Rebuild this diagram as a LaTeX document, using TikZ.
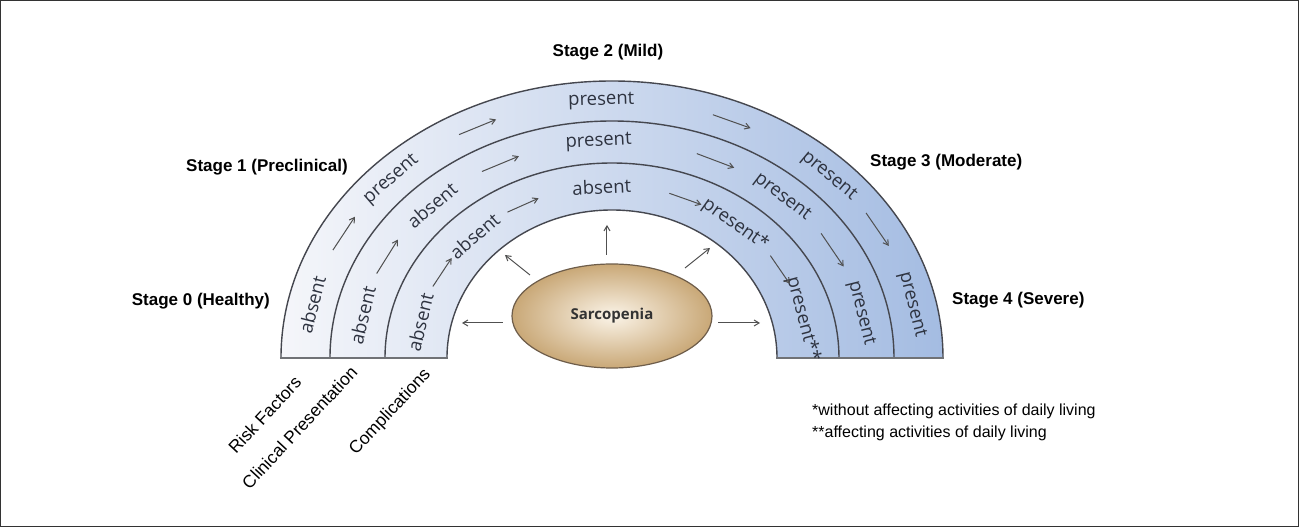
\documentclass[tikz,border=0pt]{standalone}
\usepackage{fontspec}
\setmainfont{Liberation Sans}
\newfontfamily\bandfont{Open Sans}
\usetikzlibrary{shapes.geometric,arrows.meta,calc}
\definecolor{ringL}{HTML}{F5F6FA}
\definecolor{ringM}{HTML}{DAE3F2}
\definecolor{ringR}{HTML}{A4BCE2}
\definecolor{ringline}{HTML}{45474F}
\definecolor{baseline}{HTML}{707276}
\definecolor{bandtxt}{HTML}{2E3340}
\definecolor{sarcIn}{HTML}{FBF4E8}
\definecolor{sarcOut}{HTML}{C9A877}
\definecolor{sarcBorder}{HTML}{6E5D4A}
\definecolor{arrowgray}{HTML}{505050}
\begin{document}
\begin{tikzpicture}[x=1pt,y=1pt,
 stagelabel/.style={font=\fontsize{17}{20}\selectfont\bfseries, inner sep=0pt},
 axislabel/.style={font=\fontsize{17.5}{20}\selectfont, inner sep=0pt, rotate=47, anchor=east},
 bandtext/.style={font=\bandfont\fontsize{18.5}{21}\selectfont, text=bandtxt, inner sep=0pt},
 bandarrow/.style={draw=arrowgray, line width=1pt, -{Straight Barb[length=5pt,width=6pt]}},
 ringarc/.style={draw=ringline, line width=1.4pt},
 sarcarrow/.style={draw=arrowgray, line width=1pt, -{Straight Barb[length=5pt,width=6pt]}},
]
\useasboundingbox (-612,-169) rectangle (687,358);
\draw[line width=1pt, black!80] (-611.5,-168.5) rectangle (686.5,357.5);
% ring
\shade[left color=ringL, middle color=ringM, right color=ringR] (-331,0) arc[start angle=180,end angle=0,x radius=331,y radius=277] -- cycle;
\fill[white] (-165,0) arc[start angle=180,end angle=0,x radius=165,y radius=148] -- cycle;
\foreach \ra/\rb in {331/277, 282/237, 227/195, 165/148}
  \draw[ringarc] (-\ra,0) arc[start angle=180,end angle=0,x radius=\ra,y radius=\rb];
\draw[draw=baseline, line width=2pt] (-332,0) -- (-164,0);
\draw[draw=baseline, line width=2pt] (164,0) -- (332,0);
% band labels
\foreach \t/\txt [count=\i] in {168/absent,136/present,92/present,45/present,12/present}
  \node[bandtext, rotate={atan2(-257*cos(\t),306.5*sin(\t))}] (o\i) at ({306.5*cos(\t)},{257*sin(\t)}) {\txt};
\foreach \t/\txt [count=\i] in {168.5/absent,135/absent,93/present,48/present,12/present}
  \node[bandtext, rotate={atan2(-216*cos(\t),254.5*sin(\t))}] (m\i) at ({254.5*cos(\t)},{216*sin(\t)}) {\txt};
\foreach \t/\txt [count=\i] in {168/absent,134.5/absent,93/absent,51/present*,13/present**}
  \node[bandtext, rotate={atan2(-171.5*cos(\t),196*sin(\t))}] (n\i) at ({196*cos(\t)},{171.5*sin(\t)}) {\txt};
% band arrows
\foreach \t [count=\i] in {151,116,67,30} {
  \pgfmathsetmacro\rot{atan2(-257*cos(\t),306.5*sin(\t))}
  \coordinate (oa\i) at ({306.5*cos(\t)},{257*sin(\t)});
  \coordinate (oas\i) at ($(oa\i)+(\rot+180:20)$);
  \coordinate (oae\i) at ($(oa\i)+(\rot:20)$);
  \draw[bandarrow] (oas\i) -- (oae\i);
}
\foreach \t [count=\i] in {152,116,66,30} {
  \pgfmathsetmacro\rot{atan2(-216*cos(\t),254.5*sin(\t))}
  \coordinate (ma\i) at ({254.5*cos(\t)},{216*sin(\t)});
  \coordinate (mas\i) at ($(ma\i)+(\rot+180:20)$);
  \coordinate (mae\i) at ($(ma\i)+(\rot:20)$);
  \draw[bandarrow] (mas\i) -- (mae\i);
}
\foreach \t [count=\i] in {150,117,68,31} {
  \pgfmathsetmacro\rot{atan2(-171.5*cos(\t),196*sin(\t))}
  \coordinate (na\i) at ({196*cos(\t)},{171.5*sin(\t)});
  \coordinate (nas\i) at ($(na\i)+(\rot+180:17)$);
  \coordinate (nae\i) at ($(na\i)+(\rot:17)$);
  \draw[bandarrow] (nas\i) -- (nae\i);
}
% sarcopenia
\node[ellipse, draw=sarcBorder, line width=1.2pt, inner color=sarcIn, outer color=sarcOut,
  minimum width=200pt, minimum height=104pt, inner sep=0pt,
  font=\bandfont\bfseries\fontsize{15}{18}\selectfont, text=black!80] (sarc) at (0,42) {Sarcopenia};
\coordinate (sl1) at (-109,35); \coordinate (sl2) at (-150,35);
\coordinate (sr1) at (106,35);  \coordinate (sr2) at (148,35);
\coordinate (su1) at (-5,103);  \coordinate (su2) at (-5,133);
\coordinate (sul1) at (-82,83); \coordinate (sul2) at (-107,103);
\coordinate (sur1) at (73,90);  \coordinate (sur2) at (98,110);
\draw[sarcarrow] (sl1) -- (sl2);
\draw[sarcarrow] (sr1) -- (sr2);
\draw[sarcarrow] (su1) -- (su2);
\draw[sarcarrow] (sul1) -- (sul2);
\draw[sarcarrow] (sur1) -- (sur2);
% stage labels
\node[stagelabel, anchor=east] (s0) at (-342,57) {Stage 0 (Healthy)};
\node[stagelabel, anchor=east] (s1) at (-264,191) {Stage 1 (Preclinical)};
\node[stagelabel] (s2) at (-4,306) {Stage 2 (Mild)};
\node[stagelabel, anchor=west] (s3) at (258,196) {Stage 3 (Moderate)};
\node[stagelabel, anchor=west] (s4) at (340,58) {Stage 4 (Severe)};
% axis labels
\node[axislabel] (rf) at (-314,-21) {Risk Factors};
\node[axislabel] (cp) at (-258,-11) {Clinical Presentation};
\node[axislabel] (co) at (-184,-14) {Complications};
% footnote
\node[anchor=north west, align=left, font=\fontsize{16}{22}\selectfont, inner sep=0pt] (fn) at (200,-46)
  {*without affecting activities of daily living\\**affecting activities of daily living};
\end{tikzpicture}
\end{document}
